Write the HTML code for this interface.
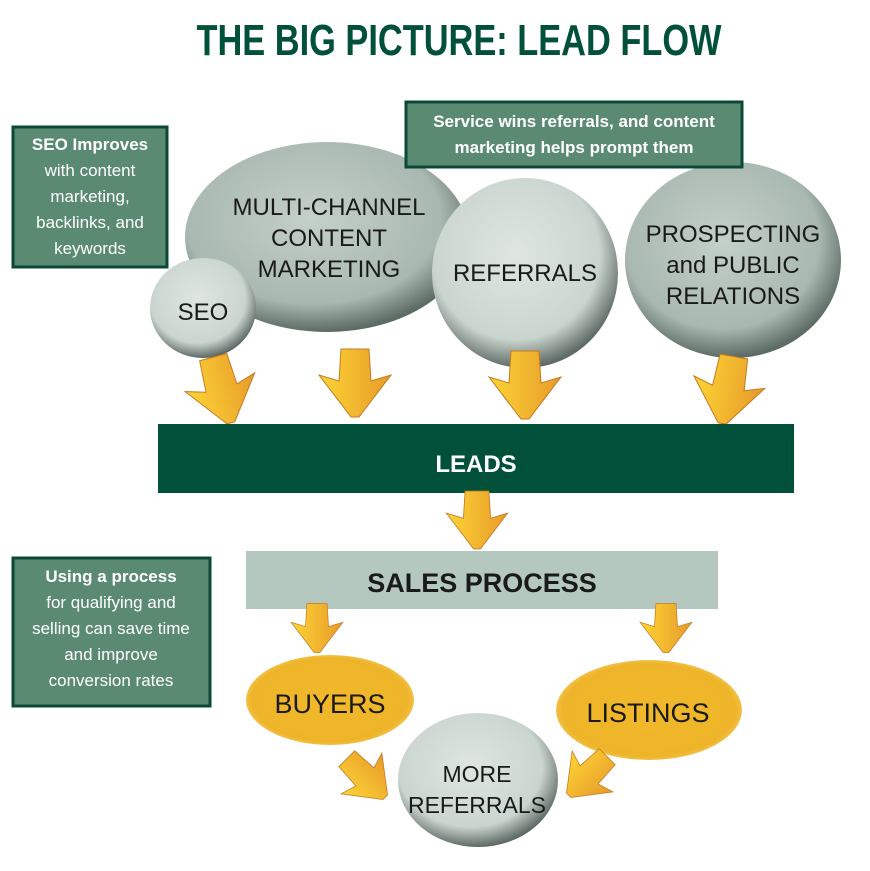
<!DOCTYPE html>
<html><head><meta charset="utf-8"><style>
body{margin:0;background:#fff;}
svg{display:block;}
</style></head><body>
<svg width="870" height="871" viewBox="0 0 870 871" xmlns="http://www.w3.org/2000/svg" font-family="Liberation Sans, sans-serif">
<defs>
<radialGradient id="g1" cx="45%" cy="40%" r="60%">
<stop offset="0" stop-color="#c4d0ca"/><stop offset="0.75" stop-color="#a9b8b1"/><stop offset="1" stop-color="#5d6b65"/>
</radialGradient>
<radialGradient id="g2" cx="45%" cy="40%" r="60%">
<stop offset="0" stop-color="#dfe6e2"/><stop offset="0.75" stop-color="#cbd5d0"/><stop offset="1" stop-color="#5f6b66"/>
</radialGradient>
<radialGradient id="gy" cx="50%" cy="50%" r="55%">
<stop offset="0" stop-color="#f2b82b"/><stop offset="0.85" stop-color="#efb52a"/><stop offset="1" stop-color="#f6d27a"/>
</radialGradient>
<linearGradient id="ga" x1="0" y1="0" x2="1" y2="0">
<stop offset="0" stop-color="#fcd535"/><stop offset="1" stop-color="#e89a2a"/>
</linearGradient>
<path id="ar" d="M-14,-34 L14,-34 L16,-2 L36,-8 L4,34 L-4,34 L-36,-8 L-16,-2 Z" fill="url(#ga)" stroke="#c47a22" stroke-width="1"/>
</defs>

<text x="459" y="55" text-anchor="middle" font-family="Liberation Sans Narrow, Liberation Sans, sans-serif" font-weight="bold" font-size="44" fill="#00503a" textLength="525" lengthAdjust="spacingAndGlyphs">THE BIG PICTURE: LEAD FLOW</text>

<!-- top ellipses -->
<ellipse cx="327" cy="237" rx="142" ry="95" fill="url(#g1)"/>
<ellipse cx="203" cy="308" rx="53" ry="50" fill="url(#g2)"/>
<ellipse cx="525" cy="273" rx="93" ry="95" fill="url(#g2)"/>
<ellipse cx="733" cy="260" rx="108" ry="98" fill="url(#g1)"/>
<g font-size="24" fill="#1a1a1a" text-anchor="middle">
<text x="329" y="215">MULTI-CHANNEL</text>
<text x="329" y="246">CONTENT</text>
<text x="329" y="277">MARKETING</text>
<text x="203" y="320">SEO</text>
<text x="525" y="281">REFERRALS</text>
<text x="733" y="242">PROSPECTING</text>
<text x="733" y="273">and PUBLIC</text>
<text x="733" y="304">RELATIONS</text>
</g>

<!-- callout boxes -->
<rect x="13" y="127" width="154" height="140" fill="#5b8a72" stroke="#0a4a34" stroke-width="3"/>
<g font-size="17" fill="#fff" text-anchor="middle">
<text x="90" y="150" font-weight="bold">SEO Improves</text>
<text x="90" y="176">with content</text>
<text x="90" y="202">marketing,</text>
<text x="90" y="228">backlinks, and</text>
<text x="90" y="254">keywords</text>
</g>
<rect x="406" y="102" width="336" height="65" fill="#5b8a72" stroke="#0a4a34" stroke-width="3"/>
<g font-size="17" fill="#fff" text-anchor="middle" font-weight="bold">
<text x="574" y="127">Service wins referrals, and content</text>
<text x="574" y="153">marketing helps prompt them</text>
</g>
<rect x="13" y="558" width="197" height="148" fill="#5b8a72" stroke="#0a4a34" stroke-width="3"/>
<g font-size="17" fill="#fff" text-anchor="middle">
<text x="111" y="582" font-weight="bold">Using a process</text>
<text x="111" y="608">for qualifying and</text>
<text x="111" y="634">selling can save time</text>
<text x="111" y="660">and improve</text>
<text x="111" y="686">conversion rates</text>
</g>

<!-- arrows top -->
<use href="#ar" transform="translate(222,390) rotate(-15)"/>
<use href="#ar" transform="translate(355,383)"/>
<use href="#ar" transform="translate(525,385)"/>
<use href="#ar" transform="translate(728,390) rotate(10)"/>

<rect x="158" y="424" width="636" height="69" fill="#00503a"/>
<text x="476" y="472" text-anchor="middle" font-size="24" font-weight="bold" fill="#fff">LEADS</text>

<use href="#ar" transform="translate(477,520) scale(0.85)"/>

<rect x="246" y="551" width="472" height="58" fill="#b4c8c0"/>
<text x="482" y="592" text-anchor="middle" font-size="27" font-weight="bold" fill="#1a1a1a">SALES PROCESS</text>

<use href="#ar" transform="translate(317,628) scale(0.72)"/>
<use href="#ar" transform="translate(666,628) scale(0.72)"/>

<ellipse cx="330" cy="700" rx="84" ry="45" fill="url(#gy)"/>
<ellipse cx="649" cy="710" rx="93" ry="50" fill="url(#gy)"/>
<ellipse cx="478" cy="780" rx="80" ry="67" fill="url(#g2)"/>
<g font-size="27" fill="#1a1a1a" text-anchor="middle">
<text x="330" y="713">BUYERS</text>
<text x="648" y="722">LISTINGS</text>
</g>
<g font-size="23" fill="#1a1a1a" text-anchor="middle">
<text x="477" y="782">MORE</text>
<text x="477" y="813">REFERRALS</text>
</g>

<use href="#ar" transform="translate(366,778) rotate(-45) scale(0.8)"/>
<use href="#ar" transform="translate(588,776) rotate(45) scale(0.8)"/>
</svg>
</body></html>
